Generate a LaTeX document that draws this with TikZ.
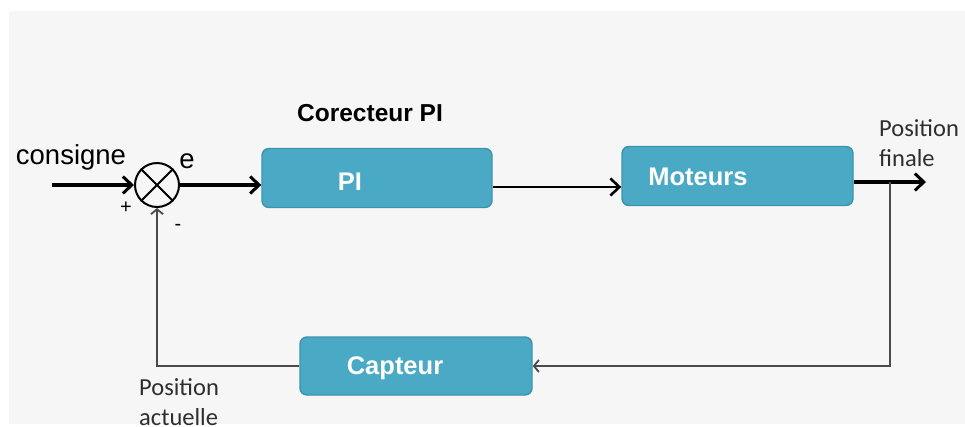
\documentclass[tikz,border=0pt]{standalone}
\usepackage{fontspec}
\setmainfont{Liberation Sans}
\newfontfamily\calib{Carlito}
\usetikzlibrary{arrows.meta}
\definecolor{boxfill}{HTML}{4AAAC6}
\definecolor{boxdraw}{HTML}{3B93AD}
\definecolor{bgray}{HTML}{F6F6F6}
\definecolor{fbline}{HTML}{4A4A4A}
\definecolor{lbl}{HTML}{2E2E2E}
\tikzset{
  x=1pt, y=-1pt,
  blockbox/.style={draw=boxdraw, line width=1.4pt, fill=boxfill, rounded corners=7pt,
    minimum width=230pt, minimum height=59pt, inner sep=0pt},
  blocktext/.style={text=white, font=\bfseries\fontsize{25.5}{28}\selectfont, inner sep=0pt},
  thickarrow/.style={line width=3.4pt, -{Straight Barb[length=9pt,width=17pt,line width=3pt]}},
  midarrow/.style={line width=2.8pt, -{Straight Barb[length=9pt,width=17pt,line width=2.6pt]}},
  fbarrow/.style={draw=fbline, line width=2pt},
  fbtip/.style={-{Straight Barb[length=5pt,width=12pt,line width=1.8pt]}},
  labeltext/.style={font=\fontsize{27.5}{30}\selectfont, inner sep=0pt},
  poslabel/.style={text=lbl, font=\calib\fontsize{24.5}{30}\selectfont, inner sep=0pt, anchor=west, align=left},
  signtext/.style={font=\fontsize{20}{22}\selectfont, inner sep=0pt}
}
\begin{document}
\begin{tikzpicture}
\useasboundingbox (0,0) rectangle (965,426);
\fill[white] (0,0) rectangle (965,426);
\fill[bgray] (9,11) rectangle (965,424);

% blocks
\node[blockbox] (pi) at (377,178) {};
\node[blocktext] (pit) at (350,182) {PI};
\node[blockbox, minimum width=231pt] (mot) at (737.5,176) {};
\node[blocktext] (mott) at (698,177) {Moteurs};
\node[blockbox, minimum width=232pt, minimum height=58pt] (cap) at (416,366) {};
\node[blocktext] (capt) at (395,368) {Capteur};

% summing junction
\node[draw, line width=2pt, circle, minimum size=44pt, inner sep=0pt] (sum) at (157,185) {};
\draw[line width=1.8pt] (sum.north east) -- (sum.south west);
\draw[line width=1.8pt] (sum.north west) -- (sum.south east);

% texts
\node[labeltext] (cons) at (71,157) {consigne};
\node[labeltext] (e) at (187,161) {e};
\node[signtext] (plus) at (126,208) {+};
\node[signtext] (minus) at (178,227) {-};
\node[font=\bfseries\fontsize{24.5}{28}\selectfont, inner sep=0pt] (corr) at (370,113) {Corecteur PI};
\node[poslabel] (pf) at (879,143) {Position\\finale};
\node[poslabel] (pa) at (139,402) {Position\\actuelle};

% coordinates
\coordinate (in) at (52,185);
\coordinate (out) at (926,182);
\coordinate (br) at (890,182);
\coordinate (c1) at (890,366);
\coordinate (c2) at (157,366);

% forward path
\draw[thickarrow] (in) -- (sum.west);
\draw[thickarrow] (sum.east) -- (sum.east -| pi.west);
\draw[midarrow] (pi.east |- 0,187) -- (mot.west |- 0,187);
\draw[thickarrow] (mot.east |- out) -- (out);

% feedback
\draw[fbarrow, fbtip] (br) -- (c1) -- (cap.east |- c1);
\draw[fbarrow, fbtip] (cap.west |- c2) -- (c2) -- (sum.south);
\end{tikzpicture}
\end{document}
